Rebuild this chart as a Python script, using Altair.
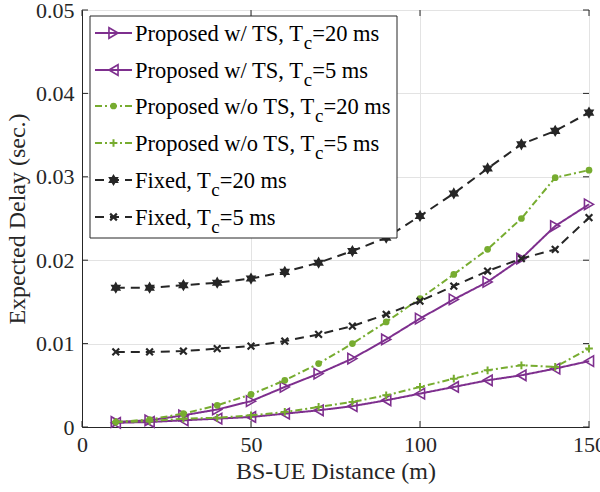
import math
import altair as alt
import pandas as pd

# ---------------- data ----------------
distance = [10, 20, 30, 40, 50, 60, 70, 80, 90, 100, 110, 120, 130, 140, 150]
w_ts_20 = [0.0006, 0.0008, 0.0014, 0.0021, 0.0031, 0.0048, 0.0064, 0.0082, 0.0105, 0.0130, 0.0153, 0.0174, 0.0202, 0.0241, 0.0267]
w_ts_5 = [0.0005, 0.0006, 0.0008, 0.0010, 0.0012, 0.0016, 0.0020, 0.0025, 0.0032, 0.0040, 0.0048, 0.0056, 0.0062, 0.0070, 0.0079]
wo_ts_20 = [0.0006, 0.0009, 0.0016, 0.0026, 0.0039, 0.0056, 0.0076, 0.0100, 0.0126, 0.0154, 0.0183, 0.0213, 0.0250, 0.0299, 0.0308]
wo_ts_5 = [0.0006, 0.0007, 0.0010, 0.0011, 0.0014, 0.0018, 0.0024, 0.0030, 0.0038, 0.0048, 0.0058, 0.0068, 0.0074, 0.0072, 0.0094]
fixed_20 = [0.0167, 0.0167, 0.0170, 0.0173, 0.0178, 0.0186, 0.0197, 0.0211, 0.0227, 0.0253, 0.0280, 0.0310, 0.0339, 0.0355, 0.0377]
fixed_5 = [0.0090, 0.0090, 0.0091, 0.0094, 0.0097, 0.0103, 0.0111, 0.0121, 0.0135, 0.0151, 0.0169, 0.0187, 0.0202, 0.0213, 0.0251]

x_ticks = [0, 50, 100, 150]
y_ticks = [0, 0.01, 0.02, 0.03, 0.04, 0.05]

label_parts = [
    ("Proposed w/ TS, T", "c", "=20 ms"),
    ("Proposed w/ TS, T", "c", "=5 ms"),
    ("Proposed w/o TS, T", "c", "=20 ms"),
    ("Proposed w/o TS, T", "c", "=5 ms"),
    ("Fixed, T", "c", "=20 ms"),
    ("Fixed, T", "c", "=5 ms"),
]
series_values = [w_ts_20, w_ts_5, wo_ts_20, wo_ts_5, fixed_20, fixed_5]

# ---------------- styles ----------------
PURPLE = "#7E2F8E"
GREEN = "#77AC30"
DARK = "#262626"
FONT = "Times New Roman, Liberation Serif, DejaVu Serif, serif"

def hexagram():
    pts = []
    for k in range(12):
        ang = math.radians(-90 + 30 * k)
        r = 1.0 if k % 2 == 0 else 1 / math.sqrt(3)
        pts.append((r * math.cos(ang), r * math.sin(ang)))
    return "M" + "L".join(f"{x:.3f},{y:.3f}" for x, y in pts) + "Z"

X_SHAPE = "M-1,-1L1,1M1,-1L-1,1"
PLUS_SHAPE = "M-1,0L1,0M0,-1L0,1"

styles = [
    dict(color=PURPLE, dash=[1, 0], shape="triangle-right", filled=False, size=110, mw=1.6),
    dict(color=PURPLE, dash=[1, 0], shape="triangle-left", filled=False, size=110, mw=1.6),
    dict(color=GREEN, dash=[7, 3, 2, 3], shape="circle", filled=True, size=45, mw=1),
    dict(color=GREEN, dash=[7, 3, 2, 3], shape=PLUS_SHAPE, filled=False, size=60, mw=2),
    dict(color=DARK, dash=[9, 6], shape=hexagram(), filled=True, size=150, mw=1),
    dict(color=DARK, dash=[9, 6], shape=X_SHAPE, filled=False, size=45, mw=2.2),
]

W, H = 507, 417
xs = alt.Scale(domain=[0, 150], nice=False, zero=False)
ys = alt.Scale(domain=[0, 0.05], nice=False, zero=False)

x_axis = alt.Axis(values=x_ticks, grid=True, ticks=False, labelPadding=7, titlePadding=4,
                  labelFontSize=22, titleFontSize=24, labelFont=FONT, titleFont=FONT,
                  labelColor=DARK, titleColor=DARK, titleFontWeight="normal",
                  domainColor=DARK, gridColor="#e3e3e3", labelFlush=False)
y_axis = alt.Axis(values=y_ticks, grid=True, ticks=False, labelPadding=8, titlePadding=6,
                  format=".2~f", labelFontSize=22, titleFontSize=24, labelFont=FONT,
                  titleFont=FONT, labelColor=DARK, titleColor=DARK, titleFontWeight="normal",
                  domainColor=DARK, gridColor="#e3e3e3", labelFlush=False)
X_TITLE = "BS-UE Distance (m)"
Y_TITLE = "Expected Delay (sec.)"

layers = []

# series
for i, (vals, st) in enumerate(zip(series_values, styles)):
    df = pd.DataFrame({"d": distance, "v": vals})
    if i == 0:
        enc = dict(x=alt.X("d:Q", scale=xs, axis=x_axis, title=X_TITLE),
                   y=alt.Y("v:Q", scale=ys, axis=y_axis, title=Y_TITLE))
    else:
        enc = dict(x=alt.X("d:Q", scale=xs, title=X_TITLE), y=alt.Y("v:Q", scale=ys, title=Y_TITLE))
    layers.append(alt.Chart(df).mark_line(color=st["color"], strokeWidth=2, strokeDash=st["dash"]).encode(**enc))
    layers.append(alt.Chart(df).mark_point(
        shape=st["shape"], filled=st["filled"], color=st["color"], size=st["size"],
        strokeWidth=st["mw"], opacity=1).encode(**enc))

# inward ticks
xt = pd.DataFrame({"d": x_ticks})
yt = pd.DataFrame({"v": y_ticks})
for y0, y1 in [(H, H - 6), (0, 6)]:
    layers.append(alt.Chart(xt).mark_rule(color=DARK, strokeWidth=1).encode(
        x=alt.X("d:Q", scale=xs, title=X_TITLE), y=alt.value(y0), y2=alt.value(y1)))
for x0, x1 in [(0, 6), (W, W - 6)]:
    layers.append(alt.Chart(yt).mark_rule(color=DARK, strokeWidth=1).encode(
        y=alt.Y("v:Q", scale=ys, title=Y_TITLE), x=alt.value(x0), x2=alt.value(x1)))

# legend
one = pd.DataFrame({"a": [0]})
layers.append(alt.Chart(one).mark_rect(fill="white", stroke=DARK, strokeWidth=1).encode(
    x=alt.value(8), x2=alt.value(315), y=alt.value(6), y2=alt.value(228)))

TNR = {'P': 556, 'r': 333, 'o': 500, 'p': 500, 's': 389, 'e': 444, 'd': 500, ' ': 250, 'w': 722,
       '/': 278, 'T': 611, 'S': 556, ',': 250, 'F': 556, 'i': 278, 'x': 500, 'c': 444, '=': 564,
       '2': 500, '0': 500, '5': 500, 'm': 778}

def tw(s, fs):
    return sum(TNR.get(ch, 500) for ch in s) * fs / 1000.0

LFS = 22.5
SFS = 19
row_y = [23, 60, 96, 133, 170, 207]
for (p1, sub, p2), st, ry in zip(label_parts, styles, row_y):
    layers.append(alt.Chart(one).mark_rule(color=st["color"], strokeWidth=2, strokeDash=st["dash"]).encode(
        x=alt.value(13), x2=alt.value(50), y=alt.value(ry)))
    layers.append(alt.Chart(one).mark_point(
        shape=st["shape"], filled=st["filled"], color=st["color"], size=st["size"],
        strokeWidth=st["mw"], opacity=1).encode(x=alt.value(31.5), y=alt.value(ry)))
    x0 = 53
    base = ry + 7.5
    layers.append(alt.Chart(one).mark_text(align="left", baseline="alphabetic", font=FONT,
                                           fontSize=LFS, color="black").encode(
        x=alt.value(x0), y=alt.value(base), text=alt.value(p1)))
    x1 = x0 + tw(p1, LFS)
    layers.append(alt.Chart(one).mark_text(align="left", baseline="alphabetic", font=FONT,
                                           fontSize=SFS, color="black").encode(
        x=alt.value(x1), y=alt.value(base + 8), text=alt.value(sub)))
    x2 = x1 + tw(sub, SFS)
    layers.append(alt.Chart(one).mark_text(align="left", baseline="alphabetic", font=FONT,
                                           fontSize=LFS, color="black").encode(
        x=alt.value(x2), y=alt.value(base), text=alt.value(p2)))

chart = alt.layer(*layers).properties(
    width=W, height=H,
    padding={"left": 82, "top": 10, "right": 11, "bottom": 65},
    autosize=alt.AutoSizeParams(type="none"),
    background="white",
).configure_view(stroke=DARK, strokeWidth=1)

chart.save("out.html", embed_options={"renderer": "svg", "actions": False})
